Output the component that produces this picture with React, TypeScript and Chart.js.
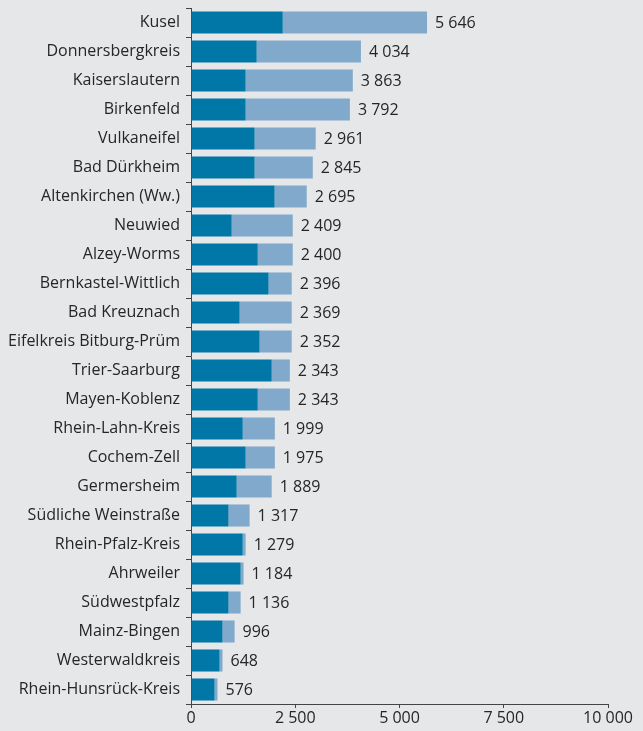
import React, { useEffect, useRef } from "react";
import { Chart, registerables } from "chart.js";

Chart.register(...registerables);

const categories = [
  "Kusel",
  "Donnersbergkreis",
  "Kaiserslautern",
  "Birkenfeld",
  "Vulkaneifel",
  "Bad Dürkheim",
  "Altenkirchen (Ww.)",
  "Neuwied",
  "Alzey-Worms",
  "Bernkastel-Wittlich",
  "Bad Kreuznach",
  "Eifelkreis Bitburg-Prüm",
  "Trier-Saarburg",
  "Mayen-Koblenz",
  "Rhein-Lahn-Kreis",
  "Cochem-Zell",
  "Germersheim",
  "Südliche Weinstraße",
  "Rhein-Pfalz-Kreis",
  "Ahrweiler",
  "Südwestpfalz",
  "Mainz-Bingen",
  "Westerwaldkreis",
  "Rhein-Hunsrück-Kreis",
];

const darkValues = [
  2200, 1575, 1310, 1310, 1525, 1525, 2005, 975, 1600, 1860, 1165, 1645,
  1935, 1600, 1240, 1310, 1095, 900, 1240, 1190, 900, 755, 685, 565,
];

const lightValues = [
  3460, 2500, 2570, 2500, 1465, 1395, 770, 1465, 840, 555, 1250, 770, 435,
  770, 770, 700, 840, 505, 70, 70, 290, 290, 70, 70,
];

const totals = [
  5646, 4034, 3863, 3792, 2961, 2845, 2695, 2409, 2400, 2396, 2369, 2352,
  2343, 2343, 1999, 1975, 1889, 1317, 1279, 1184, 1136, 996, 648, 576,
];

const xTicks = [0, 2500, 5000, 7500, 10000];

const fmt = (v: number) => String(v).replace(/\B(?=(\d{3})+(?!\d))/g, " ");

const FONT = "'Open Sans', sans-serif";
const TEXT = "#262626";

const totalsPlugin = {
  id: "totalsLabels",
  afterDatasetsDraw(chart: any) {
    const ctx = chart.ctx;
    const meta = chart.getDatasetMeta(1);
    ctx.save();
    ctx.font = `16px ${FONT}`;
    ctx.fillStyle = TEXT;
    ctx.textAlign = "left";
    ctx.textBaseline = "middle";
    meta.data.forEach((bar: any, i: number) => {
      ctx.fillText(fmt(totals[i]), bar.x + 8, bar.y + 1);
    });
    ctx.restore();
  },
};

export default function App() {
  const ref = useRef<HTMLCanvasElement | null>(null);

  useEffect(() => {
    document.body.style.margin = "0";
    document.body.style.background = "#e6e7e9";
    if (!ref.current) return;
    const chart = new Chart(ref.current, {
      type: "bar",
      data: {
        labels: categories,
        datasets: [
          {
            data: darkValues,
            backgroundColor: "#0077a6",
            borderWidth: 0,
            barPercentage: 0.76,
            categoryPercentage: 1,
          },
          {
            data: lightValues,
            backgroundColor: "#80a9cb",
            borderWidth: 0,
            barPercentage: 0.76,
            categoryPercentage: 1,
          },
        ],
      },
      options: {
        indexAxis: "y",
        animation: false,
        responsive: false,
        maintainAspectRatio: false,
        layout: { padding: { top: 8, right: 35, left: 0, bottom: 0 } },
        plugins: {
          legend: { display: false },
          tooltip: { enabled: false },
        },
        scales: {
          x: {
            stacked: true,
            min: 0,
            max: 10000,
            afterBuildTicks: (scale: any) => {
              scale.ticks = xTicks.map((v) => ({ value: v }));
            },
            afterFit: (scale: any) => {
              scale.height = 27;
            },
            grid: {
              drawOnChartArea: false,
              drawTicks: true,
              tickLength: 4,
              color: "#444",
            },
            border: { display: true, color: "#444", width: 1 },
            ticks: {
              padding: 1,
              color: TEXT,
              font: { family: FONT, size: 16 },
              maxRotation: 0,
              callback: (v: any) => fmt(Number(v)),
            },
          },
          y: {
            stacked: true,
            afterFit: (scale: any) => {
              scale.width = 191;
              scale.paddingTop = 0;
              scale.paddingBottom = 0;
            },
            grid: {
              offset: true,
              drawOnChartArea: false,
              drawTicks: true,
              tickLength: 5,
              color: "#444",
            },
            border: { display: true, color: "#444", width: 1 },
            ticks: {
              padding: 6,
              color: TEXT,
              font: { family: FONT, size: 16 },
            },
          },
        },
      },
      plugins: [totalsPlugin],
    });
    return () => chart.destroy();
  }, []);

  return (
    <div
      style={{
        position: "absolute",
        left: 0,
        top: 0,
        width: 643,
        height: 731,
        background: "#e6e7e9",
      }}
    >
      <canvas ref={ref} width={643} height={731} style={{ display: "block" }} />
    </div>
  );
}
